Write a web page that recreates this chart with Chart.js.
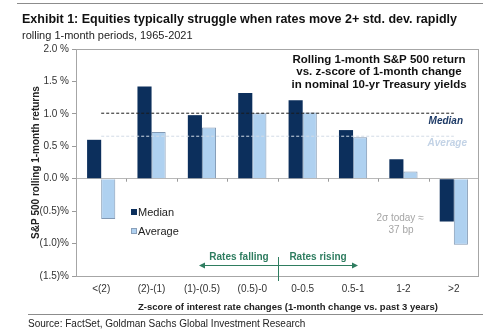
<!DOCTYPE html>
<html>
<head>
<meta charset="utf-8">
<script src="https://cdn.jsdelivr.net/npm/chart.js@4.4.1/dist/chart.umd.min.js"></script>
<style>
  html, body { margin: 0; padding: 0; background: #fff; }
  #wrap { position: relative; width: 500px; height: 335px; font-family: "Liberation Sans", Arial, sans-serif; color: #222; }
  #chart { position: absolute; left: 0; top: 0; }
  .rule { position: absolute; height: 1px; background: #8c8c8c; }
  .txt { position: absolute; white-space: nowrap; }
</style>
</head>
<body>
<div id="wrap">
  <canvas id="chart" width="500" height="335"></canvas>
  <div class="rule" style="left:17px; top:3px; width:466px;"></div>
  <div class="txt" style="left:22px; top:12px; font-size:12.5px; font-weight:bold; color:#111;">Exhibit 1: Equities typically struggle when rates move 2+ std. dev. rapidly</div>
  <div class="txt" style="left:22px; top:29px; font-size:11px; color:#222;">rolling 1-month periods, 1965-2021</div>
  <div class="rule" style="left:28px; top:314px; width:455px;"></div>
  <div class="txt" style="left:28px; top:318px; font-size:10px; color:#222;">Source: FactSet, Goldman Sachs Global Investment Research</div>
</div>
<script>
const categories = ["<(2)", "(2)-(1)", "(1)-(0.5)", "(0.5)-0", "0-0.5", "0.5-1", "1-2", ">2"];
const medianValues = [0.60, 1.42, 0.98, 1.32, 1.21, 0.75, 0.30, -0.66];
const averageValues = [-0.62, 0.72, 0.79, 1.01, 1.02, 0.64, 0.11, -1.02];
const overallMedian = 1.01;
const overallAverage = 0.655;
const yTicks = [-1.5, -1.0, -0.5, 0.0, 0.5, 1.0, 1.5, 2.0];

const NAVY = "#0c2f5c";
const LIGHT = "#afd1f0";
const GREEN = "#2f7d60";
const FONT = "'Liberation Sans', Arial, sans-serif";

function fmtPct(v) {
  if (Math.abs(v) < 1e-9) return "0.0 %";
  return v > 0 ? v.toFixed(1) + " %" : "(" + Math.abs(v).toFixed(1) + ")%";
}

// box, zero-line ticks, legend and notes
const decorations = {
  id: "decorations",
  afterDatasetsDraw(chart) {
    const { ctx, chartArea: a, scales } = chart;
    const x = scales.x, y = scales.y;
    const y0 = y.getPixelForValue(0);
    const step = x.getPixelForValue(1) - x.getPixelForValue(0);
    ctx.save();

    // plot border
    ctx.strokeStyle = "#a6a6a6";
    ctx.lineWidth = 1;
    ctx.strokeRect(a.left + 0.5, a.top + 0.5, a.right - a.left - 1, a.bottom - a.top);

    // small ticks on zero line
    ctx.strokeStyle = "#9a9a9a";
    for (let i = 1; i < categories.length; i++) {
      const px = Math.round(x.getPixelForValue(i) - step / 2) + 0.5;
      ctx.beginPath();
      ctx.moveTo(px, y0);
      ctx.lineTo(px, y0 + 3);
      ctx.stroke();
    }

    // x axis title (sits a bit right of centre in the original)
    ctx.fillStyle = "#222";
    ctx.font = "bold 9.5px " + FONT;
    ctx.textAlign = "center";
    ctx.textBaseline = "middle";
    ctx.fillText("Z-score of interest rate changes (1-month change vs. past 3 years)", 288, 307);

    // inset title
    ctx.fillStyle = "#111";
    ctx.font = "bold 11.5px " + FONT;
    const cx = 379;
    ctx.fillText("Rolling 1-month S&P 500 return", cx, 59.5);
    ctx.fillText("vs. z-score of 1-month change", cx, 72);
    ctx.fillText("in nominal 10-yr Treasury yields", cx, 84.5);

    // line labels
    ctx.font = "italic bold 10px " + FONT;
    ctx.textAlign = "right";
    ctx.fillStyle = "#1d3a66";
    ctx.fillText("Median", 463, y.getPixelForValue(overallMedian) + 8);
    ctx.fillStyle = "#c3d3e6";
    ctx.fillText("Average", 467, y.getPixelForValue(overallAverage) + 7);

    // legend
    ctx.font = "11px " + FONT;
    ctx.textAlign = "left";
    ctx.fillStyle = NAVY;
    ctx.fillRect(131, 209, 6, 6);
    ctx.fillStyle = "#222";
    ctx.fillText("Median", 138, 212.5);
    ctx.fillStyle = LIGHT;
    ctx.fillRect(131, 228, 6, 6);
    ctx.strokeStyle = "#8aa0ba";
    ctx.strokeRect(131.5, 228.5, 5, 5);
    ctx.fillStyle = "#222";
    ctx.fillText("Average", 138, 231.5);

    // 2 sigma note
    ctx.font = "10px " + FONT;
    ctx.textAlign = "center";
    ctx.fillStyle = "#a5a5a5";
    ctx.fillText("2\u03c3 today \u2248", 400, 218);
    ctx.fillText("37 bp", 401, 230);

    // rates falling / rising arrow
    const mid = Math.round(x.getPixelForValue(3) + step / 2) + 0.5;
    ctx.strokeStyle = GREEN;
    ctx.fillStyle = GREEN;
    ctx.lineWidth = 1;
    ctx.beginPath();
    ctx.moveTo(mid, 257);
    ctx.lineTo(mid, 281);
    ctx.stroke();
    const ay = 265.5, ax1 = 199, ax2 = 358;
    ctx.beginPath();
    ctx.moveTo(ax1 + 4, ay);
    ctx.lineTo(ax2 - 4, ay);
    ctx.stroke();
    ctx.beginPath();
    ctx.moveTo(ax1, ay); ctx.lineTo(ax1 + 6, ay - 3); ctx.lineTo(ax1 + 6, ay + 3); ctx.closePath();
    ctx.fill();
    ctx.beginPath();
    ctx.moveTo(ax2, ay); ctx.lineTo(ax2 - 6, ay - 3); ctx.lineTo(ax2 - 6, ay + 3); ctx.closePath();
    ctx.fill();
    ctx.font = "bold 10px " + FONT;
    ctx.fillText("Rates falling", 239, 257);
    ctx.fillText("Rates rising", 318, 257);

    ctx.restore();
  }
};

new Chart(document.getElementById("chart"), {
  type: "bar",
  data: {
    labels: categories,
    datasets: [
      {
        type: "line",
        label: "Median level",
        data: categories.map(() => overallMedian),
        borderColor: "#1a1a1a",
        borderWidth: 1,
        borderDash: [3, 2],
        pointRadius: 0,
        order: 0
      },
      {
        type: "line",
        label: "Average level",
        data: categories.map(() => overallAverage),
        borderColor: "#d2dbe6",
        borderWidth: 1,
        borderDash: [3, 2],
        pointRadius: 0,
        order: 0
      },
      {
        label: "Median",
        data: medianValues,
        backgroundColor: NAVY,
        borderColor: NAVY,
        borderWidth: 0,
        categoryPercentage: 0.56,
        barPercentage: 1.0,
        order: 1
      },
      {
        label: "Average",
        data: averageValues,
        backgroundColor: LIGHT,
        borderColor: "#8299b4",
        borderWidth: 1,
        categoryPercentage: 0.56,
        barPercentage: 1.0,
        order: 1
      }
    ]
  },
  options: {
    responsive: false,
    animation: false,
    layout: { padding: { left: 28, top: 49, right: 21, bottom: 21 } },
    plugins: {
      legend: { display: false },
      tooltip: { enabled: false }
    },
    scales: {
      x: {
        afterFit: (s) => { s.height = 38; },
        grid: { display: false, drawTicks: false },
        border: { display: false },
        ticks: {
          color: "#333",
          padding: 7,
          maxRotation: 0,
          font: { family: FONT, size: 10 }
        }
      },
      y: {
        min: -1.5,
        max: 2.0,
        afterFit: (s) => { s.width = 48; },
        afterBuildTicks: (s) => { s.ticks = yTicks.map((v) => ({ value: v })); },
        grid: {
          color: (c) => (c.tick && c.tick.value === 0 ? "#b8b8b8" : "rgba(0,0,0,0)"),
          tickColor: "#9a9a9a",
          tickLength: 4
        },
        border: { color: "#a6a6a6" },
        ticks: {
          color: "#333",
          padding: 3,
          callback: (v) => fmtPct(v),
          font: { family: FONT, size: 10 }
        },
        title: {
          display: true,
          text: "S&P 500 rolling 1-month returns",
          color: "#222",
          padding: { top: 2, bottom: 0 },
          font: { family: FONT, size: 10, weight: "bold" }
        }
      }
    }
  },
  plugins: [decorations]
});
</script>
</body>
</html>
